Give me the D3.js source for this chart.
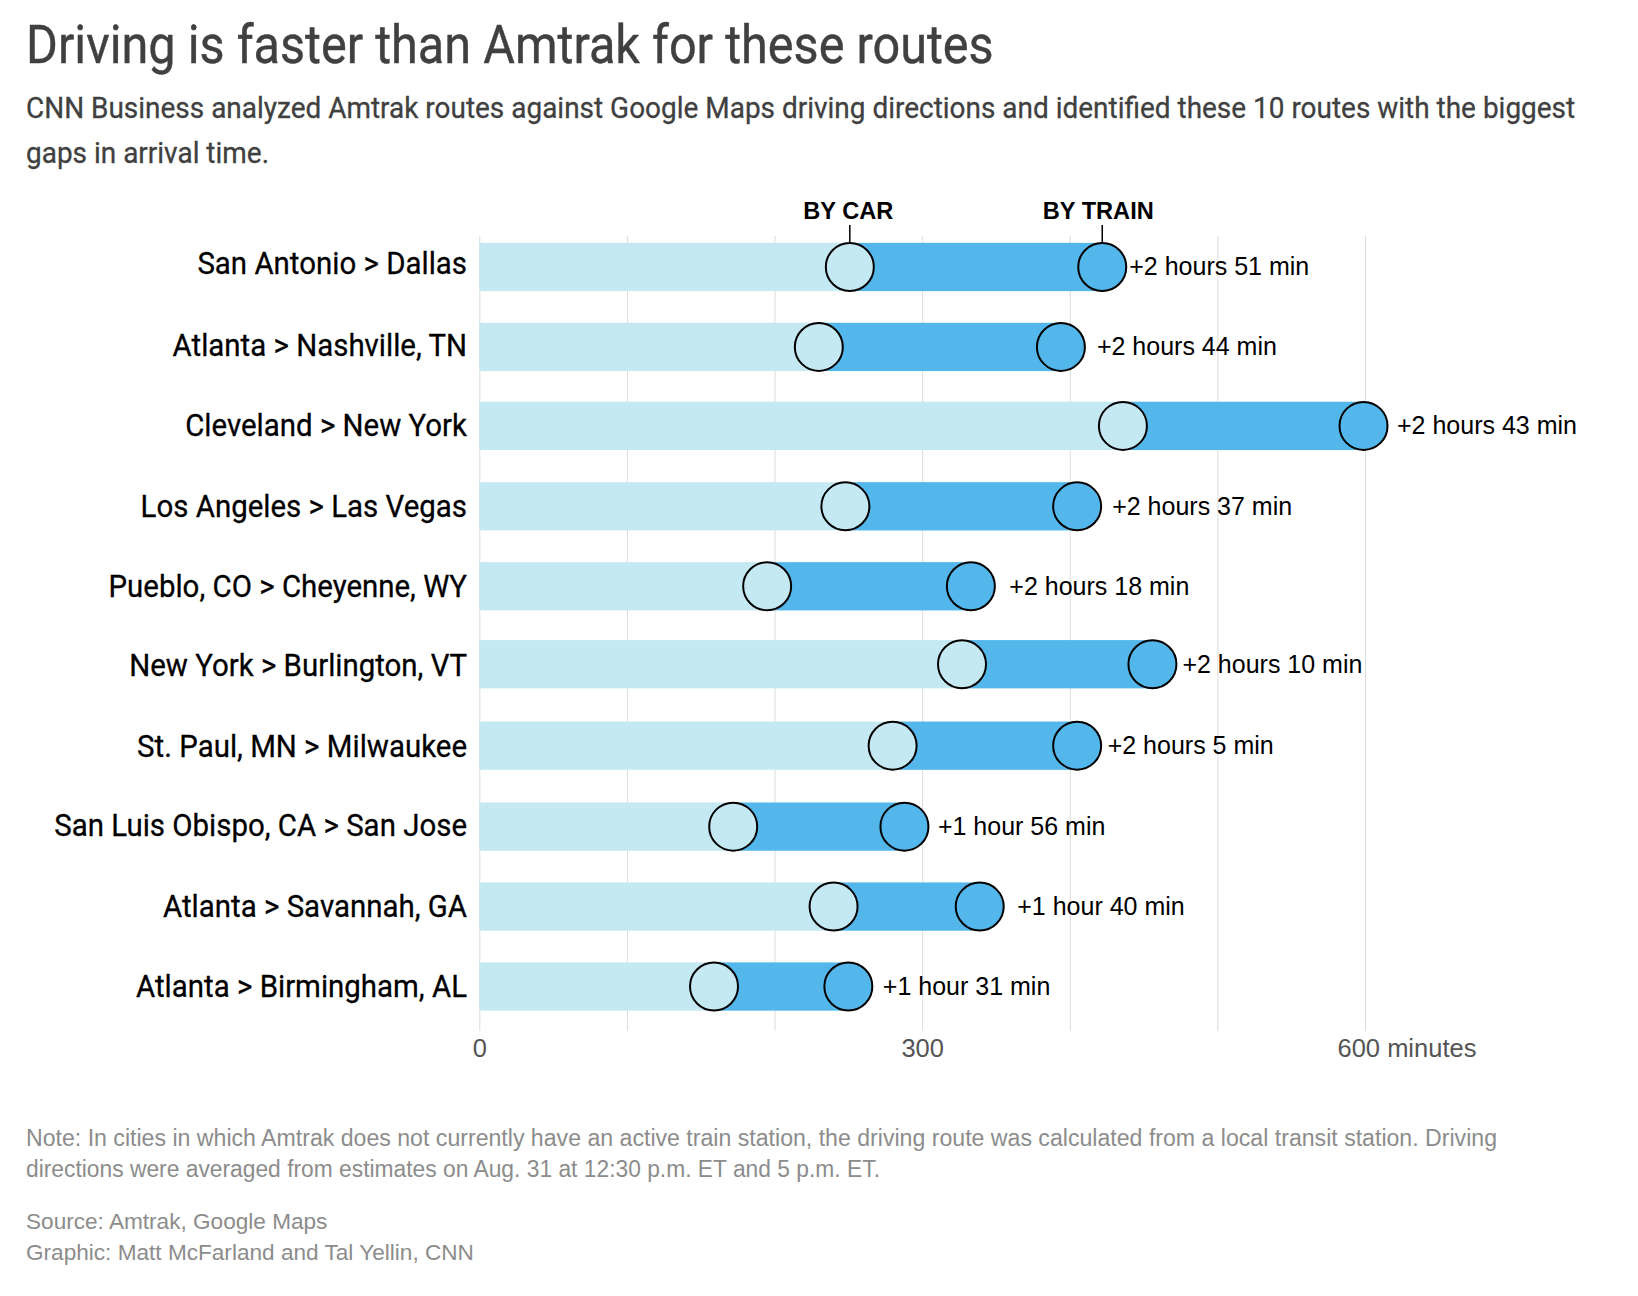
<!DOCTYPE html>
<html>
<head>
<meta charset="utf-8">
<script src="https://cdn.jsdelivr.net/npm/d3@7"></script>
<style>
  body { margin: 0; background: #fff; }
  .head { font-family: "Roboto", sans-serif; }
  .plain { font-family: "Liberation Sans", Arial, sans-serif; }
  .domain { display: none; }
</style>
</head>
<body>
<div id="chart"></div>
<script>
// values, in minutes
var routes = ["San Antonio > Dallas", "Atlanta > Nashville, TN", "Cleveland > New York",
    "Los Angeles > Las Vegas", "Pueblo, CO > Cheyenne, WY", "New York > Burlington, VT",
    "St. Paul, MN > Milwaukee", "San Luis Obispo, CA > San Jose", "Atlanta > Savannah, GA",
    "Atlanta > Birmingham, AL"];
var byCar = [251, 230, 436, 248, 195, 327, 280, 172, 240, 159];
var byTrain = [422, 394, 599, 405, 333, 456, 405, 288, 339, 250];
var gapLabels = ["+2 hours 51 min", "+2 hours 44 min", "+2 hours 43 min", "+2 hours 37 min",
    "+2 hours 18 min", "+2 hours 10 min", "+2 hours 5 min", "+1 hour 56 min",
    "+1 hour 40 min", "+1 hour 31 min"];
var tickValues = [0, 100, 200, 300, 400, 500, 600];
var tickLabels = {0: "0", 300: "300", 600: "600"};

var svgWidth = 1638;
var svgHeight = 1296;

var svg = d3.select("#chart")
    .append("svg")
    .attr("width", svgWidth)
    .attr("height", svgHeight)
    .style("display", "block");

//scales
var x = d3.scaleLinear().domain([0, 600]).range([479.3, 1365]);
var y = d3.scaleBand().domain(d3.range(routes.length)).range([227, 1026.5]).paddingInner(0.396).paddingOuter(0.198);

//the hand placed rows and labels of the original are not quite even
var rowNudge = [0, 0, -1, -0.5, -0.5, -2.5, -1, 0, 0, 0];
var labelNudge = [-6, 3, 0.5, 2, 5.5, -3, -2.5, 0.5, 4.5, 1.5];
var nameNudge = [-4, -2, -1, 0, 0, 1, 0, -2, -1, -1];
var rowY = i => y(i) + rowNudge[i];

//title block, squeezed because the original face is a condensed one
svg.append("text").attr("class", "head")
    .attr("transform", "translate(26,63) scale(0.9,1)")
    .attr("font-size", 54).attr("fill", "#404040")
    .attr("stroke", "#404040").attr("stroke-width", 0.4)
    .text("Driving is faster than Amtrak for these routes");

var subtitle = ["CNN Business analyzed Amtrak routes against Google Maps driving directions and identified these 10 routes with the biggest",
    "gaps in arrival time."];
svg.selectAll(".sub").data(subtitle).enter().append("text")
    .attr("class", "head sub")
    .attr("transform", (d, i) => `translate(26,${118 + i * 45}) scale(0.948,1)`)
    .attr("font-size", 29.5).attr("fill", "#404040")
    .attr("stroke", "#404040").attr("stroke-width", 0.3)
    .text(d => d);

//axis + gridlines
var axis = svg.append("g")
    .attr("transform", "translate(0,1031)")
    .call(d3.axisBottom(x).tickValues(tickValues).tickSize(795).tickSizeOuter(0)
        .tickFormat(d => tickLabels[d] || ""));
axis.selectAll("line")
    .attr("y2", -795).attr("stroke", "#dcdcdc");
axis.selectAll("text")
    .attr("class", "plain").attr("y", 26).attr("dy", 0)
    .attr("font-size", 25.5).attr("fill", "#555");
axis.selectAll("text").filter(d => d === 600).append("tspan").text(" minutes");
axis.selectAll("text").filter(d => d === 600)
    .attr("text-anchor", "start").attr("x", -28);

//bars
var rows = svg.selectAll(".row").data(routes).enter().append("g").attr("class", "row");

rows.append("rect")
    .attr("x", x(0))
    .attr("y", (d, i) => rowY(i))
    .attr("width", (d, i) => x(byCar[i]) - x(0))
    .attr("height", y.bandwidth())
    .attr("fill", "#c5e9f3");

rows.append("rect")
    .attr("x", (d, i) => x(byCar[i]))
    .attr("y", (d, i) => rowY(i))
    .attr("width", (d, i) => x(byTrain[i]) - x(byCar[i]))
    .attr("height", y.bandwidth())
    .attr("fill", "#53b7ec");

rows.append("circle")
    .attr("cx", (d, i) => x(byCar[i]))
    .attr("cy", (d, i) => rowY(i) + y.bandwidth() / 2)
    .attr("r", 24)
    .attr("fill", "#c5e9f3")
    .attr("stroke", "#000")
    .attr("stroke-width", 2);

rows.append("circle")
    .attr("cx", (d, i) => x(byTrain[i]))
    .attr("cy", (d, i) => rowY(i) + y.bandwidth() / 2)
    .attr("r", 24)
    .attr("fill", "#53b7ec")
    .attr("stroke", "#000")
    .attr("stroke-width", 2);

//row labels
rows.append("text")
    .attr("class", "head")
    .attr("transform", (d, i) => `translate(467,${rowY(i) + y.bandwidth() / 2 + 11 + nameNudge[i]}) scale(0.92,1)`)
    .attr("text-anchor", "end")
    .attr("font-size", 32)
    .attr("fill", "#000")
    .attr("stroke", "#000")
    .attr("stroke-width", 0.3)
    .text(d => d);

rows.append("text")
    .attr("class", "plain")
    .attr("x", (d, i) => x(byTrain[i]) + 33 + labelNudge[i])
    .attr("y", (d, i) => rowY(i) + y.bandwidth() / 2 + 8.5)
    .attr("font-size", 25)
    .attr("fill", "#000")
    .text((d, i) => gapLabels[i]);

//key above the first row
var keys = [{name: "BY CAR", value: byCar[0], dx: -1.5}, {name: "BY TRAIN", value: byTrain[0], dx: -4}];
svg.selectAll(".key").data(keys).enter().append("text")
    .attr("class", "plain key")
    .attr("x", d => x(d.value) + d.dx)
    .attr("y", 219)
    .attr("text-anchor", "middle")
    .attr("font-size", 23.6)
    .attr("font-weight", "bold")
    .attr("fill", "#000")
    .text(d => d.name);
svg.selectAll(".keyline").data(keys).enter().append("line")
    .attr("x1", d => x(d.value)).attr("x2", d => x(d.value))
    .attr("y1", 225).attr("y2", 243)
    .attr("stroke", "#000").attr("stroke-width", 1.5);

//footer
var notes = ["Note: In cities in which Amtrak does not currently have an active train station, the driving route was calculated from a local transit station. Driving",
    "directions were averaged from estimates on Aug. 31 at 12:30 p.m. ET and 5 p.m. ET."];
var noteWidths = [1471, 854];
var credits = ["Source: Amtrak, Google Maps", "Graphic: Matt McFarland and Tal Yellin, CNN"];
svg.selectAll(".note").data(notes).enter().append("text")
    .attr("class", "plain note").attr("x", 26).attr("y", (d, i) => 1145.5 + i * 31)
    .attr("font-size", 23).attr("fill", "#8c8c8c")
    .attr("textLength", (d, i) => noteWidths[i]).attr("lengthAdjust", "spacingAndGlyphs")
    .text(d => d);
svg.selectAll(".credit").data(credits).enter().append("text")
    .attr("class", "plain credit").attr("x", 26).attr("y", (d, i) => 1229 + i * 31)
    .attr("font-size", 22.6).attr("fill", "#8c8c8c").text(d => d);
</script>
</body>
</html>
